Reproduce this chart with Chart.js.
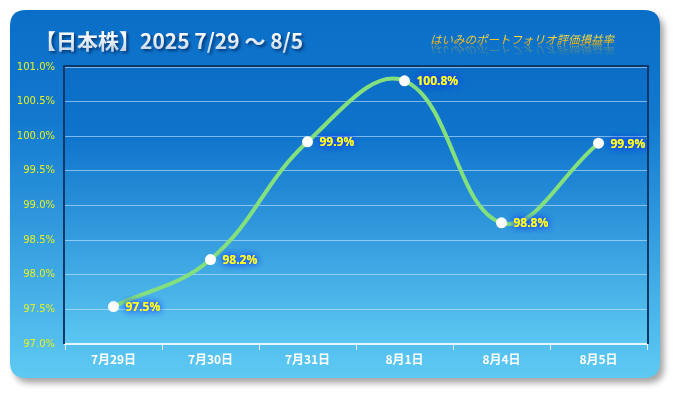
<!DOCTYPE html>
<html><head><meta charset="utf-8">
<script src="https://cdn.jsdelivr.net/npm/chart.js@4"></script>
<style>html,body{margin:0;padding:0;background:#fff;}#wrap{width:675px;height:393px;}</style>
</head><body><div id="wrap"><canvas id="c" width="675" height="393"></canvas></div>
<script>
const categories = ["7月29日","7月30日","7月31日","8月1日","8月4日","8月5日"];
const values = [97.54, 98.22, 99.92, 100.80, 98.75, 99.90];
const valueLabels = ["97.5%","98.2%","99.9%","100.8%","98.8%","99.9%"];
const yTicks = [97.0,97.5,98.0,98.5,99.0,99.5,100.0,100.5,101.0];
const titleText = "【日本株】2025 7/29 〜 8/5";
const subTitleText = "はいみのポートフォリオ評価損益率";

function rr(ctx,x,y,w,h,r){ctx.beginPath();ctx.moveTo(x+r,y);ctx.lineTo(x+w-r,y);ctx.quadraticCurveTo(x+w,y,x+w,y+r);ctx.lineTo(x+w,y+h-r);ctx.quadraticCurveTo(x+w,y+h,x+w-r,y+h);ctx.lineTo(x+r,y+h);ctx.quadraticCurveTo(x,y+h,x,y+h-r);ctx.lineTo(x,y+r);ctx.quadraticCurveTo(x,y,x+r,y);ctx.closePath();}

const bgPlugin = {
  id:'bg',
  beforeDraw(chart){
    const ctx=chart.ctx; ctx.save();
    ctx.shadowColor='rgba(0,0,0,0.35)'; ctx.shadowBlur=6; ctx.shadowOffsetX=4; ctx.shadowOffsetY=5;
    const g=ctx.createLinearGradient(0,10,0,378);
    g.addColorStop(0,'#0a6ec7'); g.addColorStop(0.3,'#1279cf'); g.addColorStop(1,'#5ecaf3');
    ctx.fillStyle=g; rr(ctx,10,10,650,368,16); ctx.fill();
    ctx.restore();
    const a=chart.chartArea;
    ctx.save();
    const g2=ctx.createLinearGradient(0,a.top,0,a.bottom);
    g2.addColorStop(0,'#0b6dc6'); g2.addColorStop(0.25,'#0f74cc'); g2.addColorStop(1,'#5cc7f1');
    ctx.fillStyle=g2; ctx.fillRect(a.left,a.top,a.right-a.left,a.bottom-a.top);
    ctx.restore();
    // title
    ctx.save();
    ctx.font='bold 21px "Noto Sans CJK JP", sans-serif';
    ctx.textBaseline='alphabetic'; ctx.textAlign='left';
    ctx.shadowColor='rgba(0,30,80,0.7)'; ctx.shadowBlur=3; ctx.shadowOffsetX=2; ctx.shadowOffsetY=2;
    const tg=ctx.createLinearGradient(0,33,0,50);
    tg.addColorStop(0,'#ffffff'); tg.addColorStop(1,'#c8d8ea');
    ctx.fillStyle=tg;
    ctx.fillText(titleText,35,49);
    ctx.restore();
    // subtitle with reflection
    ctx.save();
    ctx.font='italic 11.5px "Noto Sans CJK JP", sans-serif';
    ctx.textBaseline='alphabetic'; ctx.textAlign='left';
    const sx=430, sy=44;
    ctx.save();
    ctx.translate(0,2*sy+2); ctx.scale(1,-1);
    const rg=ctx.createLinearGradient(0,sy-10,0,sy);
    rg.addColorStop(0,'rgba(240,190,0,0)'); rg.addColorStop(1,'rgba(240,200,40,0.45)');
    ctx.fillStyle=rg;
    ctx.fillText(subTitleText,sx,sy);
    ctx.restore();
    const sg=ctx.createLinearGradient(0,sy-11,0,sy);
    sg.addColorStop(0,'#fff060'); sg.addColorStop(1,'#f0a800');
    ctx.fillStyle=sg;
    ctx.fillText(subTitleText,sx,sy);
    ctx.restore();
  },
  afterDraw(chart){
    const a=chart.chartArea, ctx=chart.ctx;
    ctx.save();
    ctx.strokeStyle='#0a3868'; ctx.lineWidth=2;
    ctx.beginPath(); ctx.moveTo(a.left-1,a.bottom); ctx.lineTo(a.left-1,a.top-1); ctx.lineTo(a.right+1,a.top-1); ctx.lineTo(a.right+1,a.bottom); ctx.stroke();
    ctx.restore();
  },
  afterDatasetsDraw(chart){
    const ctx=chart.ctx, meta=chart.getDatasetMeta(0);
    ctx.save();
    ctx.font='bold 12px "Noto Sans", "DejaVu Sans", sans-serif';
    ctx.textAlign='left'; ctx.textBaseline='middle';
    meta.data.forEach((p,i)=>{
      ctx.shadowColor='#1a3cff'; ctx.shadowBlur=6;
      ctx.fillStyle='#ffff20';
      for(let k=0;k<2;k++) ctx.fillText(valueLabels[i],p.x+12,p.y+1);
    });
    ctx.restore();
  }
};

new Chart(document.getElementById('c'),{
  type:'line',
  data:{labels:categories,datasets:[{data:values,borderColor:'#84e07c',borderWidth:4,tension:0.4,
    pointRadius:5.5,pointBackgroundColor:'#ffffff',pointBorderColor:'#ffffff',pointBorderWidth:0,fill:false}]},
  options:{
    responsive:false,animation:false,
    layout:{padding:{top:67,right:28,bottom:0,left:0}},
    plugins:{legend:{display:false},tooltip:{enabled:false},title:{display:false}},
    scales:{
      x:{offset:true,
        grid:{display:true,drawOnChartArea:false,drawTicks:true,tickLength:6,color:'#e8f4ff',offset:true},
        border:{display:true,color:'#e8f4ff',width:2},
        ticks:{color:'#ffffff',font:{family:'"Noto Sans CJK JP", sans-serif',size:12,weight:'bold'},padding:2},
        afterFit(s){s.height=49;}
      },
      y:{min:97,max:101,
        afterBuildTicks(s){s.ticks=yTicks.map(v=>({value:v}));},
        grid:{color:'rgba(200,230,255,0.6)',lineWidth:1,drawTicks:false},
        border:{display:false},
        ticks:{color:'#e6f020',font:{family:'"DejaVu Sans", sans-serif',size:10},padding:10,
          callback:(v)=>v.toFixed(1)+'%'},
        afterFit(s){s.width=65;}
      }
    }
  },
  plugins:[bgPlugin]
});
</script></body></html>
